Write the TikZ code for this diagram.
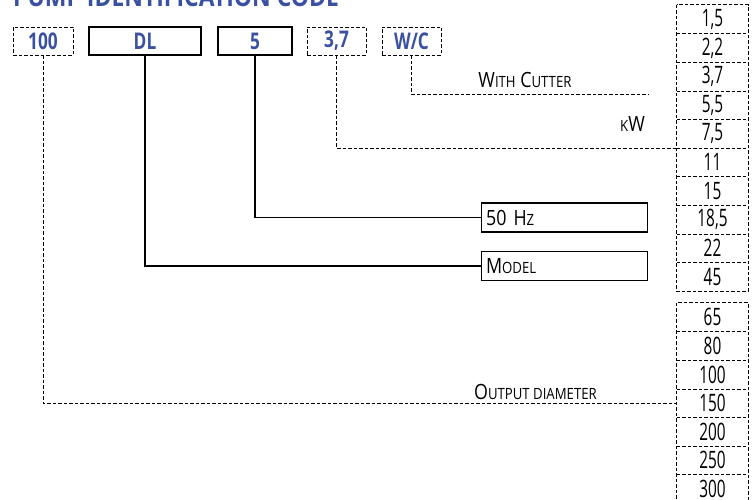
\documentclass[tikz,border=0pt]{standalone}
\usepackage{fontspec}
\setmainfont{Open Sans}[FakeStretch=0.85]
\newfontfamily\numfont{Open Sans}[FakeStretch=0.64]
\newfontfamily\codefont{Open Sans}[FakeStretch=0.75]
\definecolor{codeblue}{RGB}{58,80,160}
\newcommand\smcp[1]{{\fontsize{15.5}{15.5}\selectfont #1}}
\begin{document}
\begin{tikzpicture}[x=1pt,y=-1pt,
    codebox/.style={draw, line width=1.2pt, inner sep=0pt, minimum height=28pt, text=codeblue, font=\codefont\bfseries\fontsize{23}{23}\selectfont},
    dashbox/.style={codebox, line width=0.9pt, dash pattern=on 3.5pt off 2pt},
    rowbox/.style={minimum width=71pt, minimum height=28.6pt, inner sep=0pt, font=\numfont\fontsize{24}{24}\selectfont},
    labelbox/.style={draw, line width=1.2pt, text width=157pt, minimum height=29pt, inner sep=4.5pt, align=left, anchor=west, font=\fontsize{21}{21}\selectfont},
    dashline/.style={line width=0.9pt, dash pattern=on 3.5pt off 2pt},
    solidline/.style={line width=1.2pt}]
    \useasboundingbox (0,0) rectangle (753,500);
    \clip (0,0) rectangle (753,500);
    \node[anchor=base west, inner sep=0pt, text=codeblue, font=\bfseries\fontsize{27}{27}\selectfont] (title) at (13,7) {PUMP IDENTIFICATION CODE};
    % code fields
    \node[dashbox, minimum width=60pt] (b100) at (43,41) {100};
    \node[codebox, minimum width=112pt] (bdl) at (145,41) {DL};
    \node[codebox, minimum width=74pt] (b5) at (255,41) {5};
    \node[dashbox, minimum width=59pt] (b37) at (336.5,41) {3,7};
    \node[dashbox, minimum width=59pt] (bwc) at (411.5,41) {W/C};
    % power and diameter column
    \foreach \v [count=\i] in {{1,5},{2,2},{3,7},{5,5},{7,5},11,15,{18,5},22,45}
        \node[rowbox] (r\i) at (712.5,{5+(\i-0.5)*28.6}) {\v};
    \foreach \v [count=\i from 11] in {65,80,100,150,200,250,300}
        \node[rowbox] (r\i) at (712.5,{303+(\i-10.5)*28.6}) {\v};
    \draw[dashline] (r1.north west) rectangle (r10.south east);
    \draw[dashline] (r11.north west) rectangle (r17.south east);
    \foreach \i in {1,...,9,11,12,...,16}
        \draw[dashline] (r\i.south west) -- (r\i.south east);
    \node[labelbox] (hz) at (481,217.5) {50 H\smcp{Z}};
    \node[labelbox] (model) at (481,266) {M\smcp{ODEL}};
    \coordinate (wcend) at (648,94);
    % connectors
    \draw[dashline] (bwc.south) |- (wcend);
    \draw[dashline] (b37.south) |- (r5.south west);
    \draw[solidline] (b5.south) |- (hz.west);
    \draw[solidline] (bdl.south) |- (model.west);
    \draw[dashline] (b100.south) |- (r14.west);
    \node[anchor=base, inner sep=0pt, font=\fontsize{21}{21}\selectfont] (lcut) at (525,88) {W\smcp{ITH} C\smcp{UTTER}};
    \node[anchor=base east, inner sep=0pt, font=\fontsize{21}{21}\selectfont] (lkw) at (645,132) {\smcp{K}W};
    \node[anchor=base east, inner sep=0pt, font=\fontsize{21}{21}\selectfont] (lout) at (597,399) {O\smcp{UTPUT DIAMETER}};
\end{tikzpicture}
\end{document}
